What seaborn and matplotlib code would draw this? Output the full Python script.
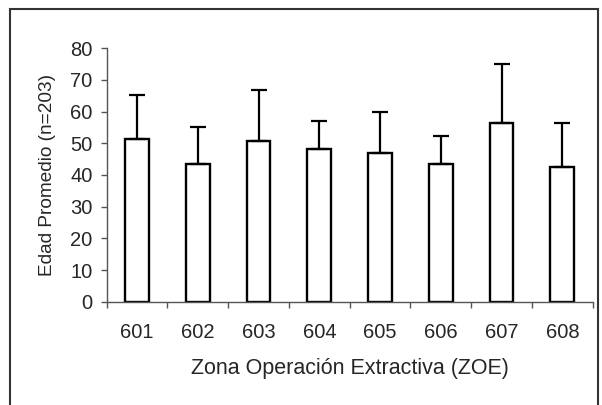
import numpy as np
import pandas as pd
import seaborn as sns
import matplotlib.pyplot as plt
from matplotlib.patches import Rectangle

# datos
zonas = ["601", "602", "603", "604", "605", "606", "607", "608"]
edad_promedio = [51.3, 43.5, 50.7, 48.1, 46.9, 43.5, 56.4, 42.6]
desv_std = [14.0, 11.7, 16.1, 9.0, 13.0, 8.7, 18.8, 13.7]

sns.set_style("ticks")
plt.rcParams['font.family'] = ['Liberation Sans', 'DejaVu Sans']

df = pd.DataFrame({"ZOE": zonas, "Edad": edad_promedio, "SD": desv_std})

fig = plt.figure(figsize=(6.02, 4.05), dpi=100)
ax = fig.add_axes([106.7 / 602, 1 - 301.7 / 405, 486 / 602, 253.4 / 405])

sns.barplot(data=df, x="ZOE", y="Edad", color="white", edgecolor="black",
            linewidth=1.7, width=0.39, errorbar=None, ax=ax, saturation=1)

# barras de error solo hacia arriba
x = np.arange(len(zonas))
ax.errorbar(x, df["Edad"], yerr=[np.zeros(len(zonas)), df["SD"]], fmt="none",
            ecolor="black", elinewidth=1.6, capsize=5.5, capthick=1.6, zorder=1)

ax.set_ylim(0, 80)
ax.set_yticks(range(0, 81, 10))
ax.set_xlim(-0.5, len(zonas) - 0.5)

# marcas entre categorías (estilo Excel)
ax.set_xticks(np.arange(-0.5, len(zonas), 1.0))
ax.set_xticklabels([])
ax.set_xticks(x, minor=True)
ax.set_xticklabels(zonas, minor=True)
ax.tick_params(axis="x", which="minor", length=0, pad=15, labelsize=14.5)
ax.tick_params(axis="x", which="major", length=4.3, width=1, color="#555555")
ax.tick_params(axis="y", length=4.3, width=1, color="#555555", labelsize=14.5, pad=6)

for s in ["top", "right"]:
    ax.spines[s].set_visible(False)
for s in ["left", "bottom"]:
    ax.spines[s].set_color("#555555")
    ax.spines[s].set_linewidth(1)

ax.set_xlabel("Zona Operación Extractiva (ZOE)", fontsize=15.5, labelpad=12)
ax.set_ylabel("Edad Promedio (n=203)", fontsize=13.7, labelpad=10)

# marco de la figura
fig.patches.append(Rectangle((9.5 / 602, -0.1), 588.5 / 602, 1.1 - 9.3 / 405,
                             transform=fig.transFigure, fill=False,
                             edgecolor="#333333", linewidth=1.5))

plt.savefig("out.png", dpi=100)
